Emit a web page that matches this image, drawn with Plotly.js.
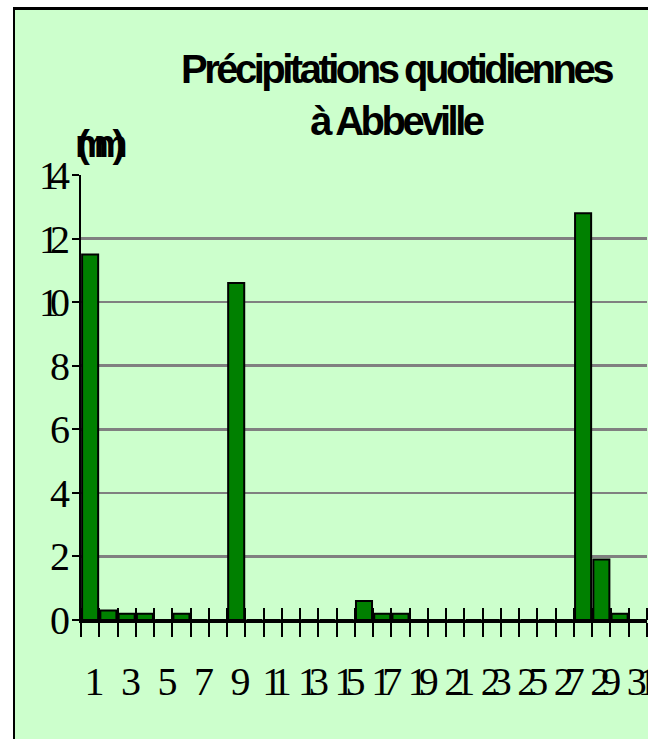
<!DOCTYPE html>
<html>
<head>
<meta charset="utf-8">
<script src="https://cdn.plot.ly/plotly-3.0.1.min.js"></script>
<style>
  html, body { margin:0; padding:0; overflow:hidden; background:#ffffff; width:648px; height:739px; }
  #frame { position:absolute; left:13px; top:7px; width:700px; height:800px;
           border-left:2px solid #000; border-top:3px solid #000; overflow:hidden; background:#CCFFCC; }
  #chart { position:absolute; left:0; top:0; }
  .gtitle { letter-spacing:-3.5px; }
  .xaxislayer-above text, .yaxislayer-above text { letter-spacing:-9px; }
  .annotation-text { letter-spacing:-15px; }
</style>
</head>
<body>
<div id="frame"><div id="chart"></div></div>
<script>
// Daily precipitation (mm) at Abbeville, days 1..31
const days = [1,2,3,4,5,6,7,8,9,10,11,12,13,14,15,16,
              17,18,19,20,21,22,23,24,25,26,27,28,29,30,31];
const rain = [11.5, 0.3, 0.2, 0.2, 0, 0.2, 0, 0, 10.6, 0, 0, 0, 0, 0, 0, 0.6,
              0.2, 0.2, 0, 0, 0, 0, 0, 0, 0, 0, 0, 12.8, 1.9, 0.2, 0];
const xTickText = ['1','','3','','5','','7','','9','','11','','13','','15','',
                   '17','','19','','21','','23','','25','','27','','29','','31'];
const yTicks = [0, 2, 4, 6, 8, 10, 12, 14];
const titleText = 'Précipitations quotidiennes<br>à Abbeville';
const unitText = '(mm)';

// category boundaries (day ± 0.5): ticks cross the axis there
const boundaries = days.map(d => d - 0.5).concat([days[days.length - 1] + 0.5]);
const boundaryText = xTickText.concat(['']);   // label of day d sits on boundary d-0.5, shifted half a day

const trace = {
  type: 'bar',
  x: days,
  y: rain,
  marker: { color: '#008000', line: { color: '#000000', width: 2 } },
  hoverinfo: 'x+y'
};

const serif = 'Liberation Serif, Times New Roman, serif';
const sans = 'Liberation Sans, Arial, sans-serif';

const plotW = 566;
const dayPx = plotW / days.length;

const layout = {
  width: 662, height: 740,
  margin: { l: 66, r: 30, t: 165, b: 130, pad: 0 },
  paper_bgcolor: '#CCFFCC',
  plot_bgcolor: '#CCFFCC',
  showlegend: false,
  bargap: 0.12,
  title: {
    text: titleText,
    font: { family: sans, size: 40, color: '#000', weight: 'bold' },
    xref: 'paper', x: 0.5565, xanchor: 'center',
    yref: 'container', y: 1 - 73/740, yanchor: 'top'
  },
  xaxis: {
    type: 'linear',
    range: [boundaries[0], boundaries[boundaries.length - 1]],
    tickmode: 'array', tickvals: boundaries, ticktext: boundaryText,
    tickangle: 0,
    ticks: 'outside', ticklen: 14, tickwidth: 2, tickcolor: '#000',
    minor: {
      tickmode: 'array', tickvals: boundaries.map(b => b + 0.002),
      ticks: 'inside', ticklen: 12, tickwidth: 2, tickcolor: '#000', showgrid: false
    },
    showline: true, linecolor: '#000', linewidth: 3,
    showgrid: false, zeroline: false,
    tickfont: { family: serif, size: 40, color: '#000' },
    ticklabelstandoff: 10,
    ticklabelshift: Math.round(dayPx / 2),
    fixedrange: true
  },
  yaxis: {
    range: [0, 14],
    tickmode: 'array', tickvals: yTicks,
    ticks: 'outside', ticklen: 7, tickwidth: 2, tickcolor: '#000',
    showline: true, linecolor: '#000', linewidth: 2,
    showgrid: true, gridcolor: '#808080', gridwidth: 2.5,
    zeroline: false,
    tickfont: { family: serif, size: 40, color: '#000' },
    ticklabelstandoff: 3,
    fixedrange: true
  },
  annotations: [{
    text: unitText, showarrow: false,
    xref: 'paper', yref: 'paper', x: 0.036, y: 1.07,
    xanchor: 'center', yanchor: 'middle',
    font: { family: sans, size: 38, color: '#000', weight: 'bold' }
  }]
};

Plotly.newPlot('chart', [trace], layout, { displayModeBar: false, staticPlot: true });
</script>
</body>
</html>
